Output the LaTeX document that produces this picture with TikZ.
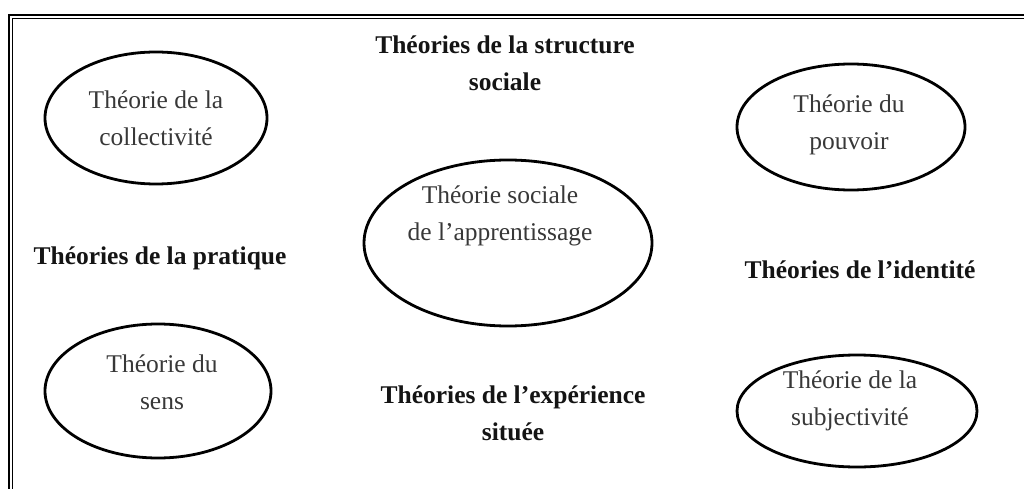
\documentclass[tikz,border=0pt]{standalone}
\usepackage{fontspec}
\setmainfont{Liberation Serif}
\usetikzlibrary{shapes.geometric}
\begin{document}
\begin{tikzpicture}[x=1pt,y=-1pt,
  oval/.style={draw=black, line width=2.8pt, ellipse, inner sep=0pt},
  plain/.style={align=center, text=black!78, inner sep=0pt, font=\fontsize{25.5}{37}\selectfont},
  head/.style={align=center, text=black!92, inner sep=0pt, font=\fontsize{25.5}{37}\selectfont\bfseries},
  frameout/.style={line width=2.2pt, black},
  framein/.style={line width=1.3pt, black}]
\useasboundingbox (0,0) rectangle (1024,489);
\fill[white] (0,0) rectangle (1024,489);
% frame (only top and left visible)
\coordinate (fo1) at (9,489); \coordinate (fo2) at (9,15); \coordinate (fo3) at (1024,15);
\coordinate (fi1) at (12.5,489); \coordinate (fi2) at (12.5,18.5); \coordinate (fi3) at (1024,18.5);
\draw[frameout] (fo1) -- (fo2) -- (fo3);
\draw[framein] (fi1) -- (fi2) -- (fi3);
% ellipses
\node[oval, minimum width=222pt, minimum height=132pt] (eColl) at (156,118) {};
\node[oval, minimum width=228pt, minimum height=126pt] (ePouv) at (851,127) {};
\node[oval, minimum width=288pt, minimum height=166pt] (eCent) at (508,243) {};
\node[oval, minimum width=226pt, minimum height=134pt] (eSens) at (158,391) {};
\node[oval, minimum width=240pt, minimum height=112pt] (eSubj) at (857,411) {};
% ellipse texts
\node[plain] (tColl) at (156,118.5) {Théorie de la\\collectivité};
\node[plain] (tPouv) at (849,125) {Théorie du\\pouvoir};
\node[plain] (tCent) at (500,216) {Théorie sociale\\de l’apprentissage};
\node[plain] (tSens) at (162,382) {Théorie du\\sens};
\node[plain] (tSubj) at (850,401) {Théorie de la\\subjectivité};
% headings
\node[head] (hStruct) at (505,63.5) {Théories de la structure\\sociale};
\node[head] (hExp) at (513,413.5) {Théories de l’expérience\\située};
\node[head] (hPrat) at (160,258) {Théories de la pratique};
\node[head] (hIdent) at (860,270) {Théories de l’identité};
\end{tikzpicture}
\end{document}
